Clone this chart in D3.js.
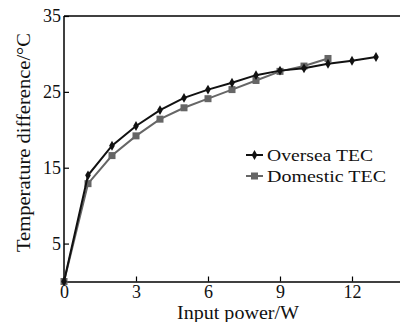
<!DOCTYPE html>
<html>
<head>
<meta charset="utf-8">
<script src="https://cdn.jsdelivr.net/npm/d3@7"></script>
<style>
  body { margin: 0; background: #fff; }
  svg text { font-family: "Liberation Serif", "DejaVu Serif", serif; }
</style>
</head>
<body>
<div id="chart"></div>
<script>
// input power (W) and temperature difference (°C)
const overseaPower = [0, 1, 2, 3, 4, 5, 6, 7, 8, 9, 10, 11, 12, 13];
const overseaDelta = [0, 14.0, 17.9, 20.5, 22.6, 24.2, 25.3, 26.2, 27.2, 27.8, 28.1, 28.7, 29.1, 29.6];
const domesticPower = [0, 1, 2, 3, 4, 5, 6, 7, 8, 9, 10, 11];
const domesticDelta = [0, 12.9, 16.6, 19.2, 21.4, 22.9, 24.1, 25.3, 26.5, 27.7, 28.4, 29.4];
const xTicks = [0, 3, 6, 9, 12];
const yTicks = [5, 15, 25, 35];

const width = 400, height = 322;
const margin = { top: 16, right: 0, bottom: 40, left: 64 };
const serif = '"Liberation Serif", "DejaVu Serif", serif';

const svg = d3.select('#chart').append('svg')
    .attr('width', width)
    .attr('height', height)
    .attr('font-family', serif);

const x = d3.scaleLinear().domain([0, 14]).range([margin.left, margin.left + 14 * 24]);
const y = d3.scaleLinear().domain([0, 35]).range([height - margin.bottom - 0.5, margin.top]);

// axes, ticks drawn inward
const xAxis = svg.append('g')
    .attr('transform', `translate(0,${y(0)})`)
    .call(d3.axisBottom(x).tickValues(xTicks).tickSizeInner(-5).tickSizeOuter(0).tickPadding(4));
const yAxis = svg.append('g')
    .attr('transform', `translate(${x(0)},0)`)
    .call(d3.axisLeft(y).tickValues(yTicks).tickSizeInner(-5).tickSizeOuter(0).tickPadding(3));

[xAxis, yAxis].forEach(g => {
    g.attr('font-family', serif).attr('font-size', 18);
    g.select('.domain').attr('stroke', '#000').attr('stroke-width', 1.5);
    g.selectAll('.tick line').attr('stroke', '#000').attr('stroke-width', 1.2);
    g.selectAll('.tick text').attr('fill', '#111');
});
yAxis.select('.domain').attr('d', `M0,${y(0)}V${y(35)}`);

// top border line
svg.append('line')
    .attr('x1', x(0)).attr('x2', width)
    .attr('y1', y(35)).attr('y2', y(35))
    .attr('stroke', '#000').attr('stroke-width', 1.5);

const line = d3.line().x(d => x(d[0])).y(d => y(d[1]));

const domestic = domesticPower.map((p, i) => [p, domesticDelta[i]]);
const oversea = overseaPower.map((p, i) => [p, overseaDelta[i]]);

svg.append('path')
    .datum(domestic)
    .attr('d', line)
    .attr('fill', 'none')
    .attr('stroke', '#666')
    .attr('stroke-width', 2);

svg.append('g').selectAll('rect')
    .data(domestic)
    .enter().append('rect')
    .attr('x', d => x(d[0]) - 3.5)
    .attr('y', d => y(d[1]) - 3.5)
    .attr('width', 7)
    .attr('height', 7)
    .attr('fill', '#666');

svg.append('path')
    .datum(oversea)
    .attr('d', line)
    .attr('fill', 'none')
    .attr('stroke', '#111')
    .attr('stroke-width', 2);

const diamond = d3.symbol().type(d3.symbolDiamond).size(28);
svg.append('g').selectAll('path')
    .data(oversea)
    .enter().append('path')
    .attr('d', diamond)
    .attr('transform', d => `translate(${x(d[0])},${y(d[1])})`)
    .attr('fill', '#111');

// legend
const legend = [
    { name: 'Oversea TEC', color: '#111', shape: 'diamond', y: 155, len: 106 },
    { name: 'Domestic TEC', color: '#666', shape: 'square', y: 176, len: 119 }
];
legend.forEach(l => {
    svg.append('line')
        .attr('x1', 246).attr('x2', 263)
        .attr('y1', l.y).attr('y2', l.y)
        .attr('stroke', l.color).attr('stroke-width', 2);
    if (l.shape === 'diamond') {
        svg.append('path').attr('d', diamond)
            .attr('transform', `translate(254.5,${l.y})`)
            .attr('fill', l.color);
    } else {
        svg.append('rect')
            .attr('x', 251).attr('y', l.y - 3.5)
            .attr('width', 7).attr('height', 7)
            .attr('fill', l.color);
    }
    svg.append('text')
        .attr('x', 267).attr('y', l.y + 6)
        .attr('font-size', 17)
        .attr('textLength', l.len)
        .attr('lengthAdjust', 'spacingAndGlyphs')
        .attr('fill', '#111')
        .text(l.name);
});

// axis titles
svg.append('text')
    .attr('x', 177).attr('y', 319)
    .attr('font-size', 18)
    .attr('textLength', 122)
    .attr('lengthAdjust', 'spacingAndGlyphs')
    .attr('fill', '#111')
    .text('Input power/W');

svg.append('text')
    .attr('transform', 'translate(30,252) rotate(-90)')
    .attr('font-size', 19)
    .attr('textLength', 219)
    .attr('lengthAdjust', 'spacingAndGlyphs')
    .attr('fill', '#111')
    .text('Temperature difference/°C');
</script>
</body>
</html>
